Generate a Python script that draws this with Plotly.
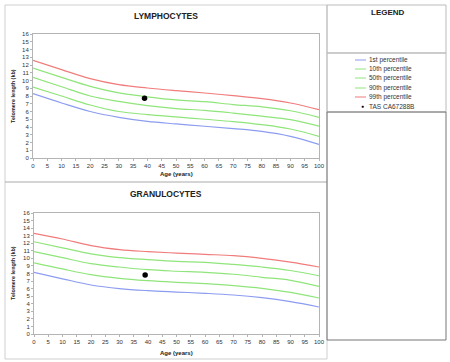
import plotly.graph_objects as go

W, H = 450, 362

ages = [0, 10, 20, 30, 40, 50, 60, 70, 80, 90, 100]

# Lymphocytes percentiles (kb)
lym_p1 = [8.3, 7.1, 6.0, 5.25, 4.73, 4.4, 4.1, 3.8, 3.44, 2.8, 1.76]
lym_p10 = [9.16, 8.0, 6.84, 6.0, 5.6, 5.3, 5.0, 4.7, 4.3, 3.74, 2.8]
lym_p50 = [10.4, 9.2, 8.0, 7.3, 6.75, 6.37, 6.15, 5.8, 5.4, 4.95, 4.1]
lym_p90 = [11.6, 10.4, 9.25, 8.4, 7.9, 7.5, 7.27, 6.9, 6.6, 6.1, 5.25]
lym_p99 = [12.6, 11.4, 10.24, 9.46, 9.03, 8.69, 8.39, 8.04, 7.66, 7.1, 6.24]

# Granulocytes percentiles (kb)
gra_p1 = [8.15, 7.3, 6.48, 6.0, 5.73, 5.55, 5.38, 5.16, 4.8, 4.27, 3.57]
gra_p10 = [9.4, 8.6, 7.85, 7.36, 7.05, 6.83, 6.65, 6.4, 6.04, 5.5, 4.76]
gra_p50 = [10.9, 10.1, 9.3, 8.86, 8.5, 8.3, 8.15, 7.9, 7.5, 7.1, 6.3]
gra_p90 = [12.2, 11.4, 10.6, 10.1, 9.83, 9.6, 9.48, 9.2, 8.86, 8.4, 7.7]
gra_p99 = [13.3, 12.56, 11.68, 11.15, 10.89, 10.7, 10.53, 10.36, 10.0, 9.5, 8.86]

# Subject (TAS CA67288B)
subject_age = [39]
subject_lym = [7.7]
subject_gra = [7.8]

series_names = ["1st percentile", "10th percentile", "50th percentile",
                "90th percentile", "99th percentile"]
subject_name = "TAS CA67288B"
panel_titles = ["LYMPHOCYTES", "GRANULOCYTES"]
y_ticks = list(range(0, 17))
x_ticks = list(range(0, 101, 5))

colors = ["#8c9cf0", "#8fe57a", "#8fe57a", "#8fe57a", "#f07c7c"]
FONT = "Liberation Sans, Arial, sans-serif"


def px(x):
    return x / W


def py(y):
    return 1 - y / H


fig = go.Figure()

lym = [lym_p1, lym_p10, lym_p50, lym_p90, lym_p99]
gra = [gra_p1, gra_p10, gra_p50, gra_p90, gra_p99]

for vals, name, c in zip(lym, series_names, colors):
    fig.add_trace(go.Scatter(x=ages, y=vals, mode="lines", name=name,
                             line=dict(color=c, width=1.2, shape="spline", smoothing=1.0),
                             xaxis="x", yaxis="y", showlegend=False))
fig.add_trace(go.Scatter(x=subject_age, y=subject_lym, mode="markers", name=subject_name,
                         marker=dict(color="black", size=5.5), xaxis="x", yaxis="y",
                         showlegend=False))
for vals, name, c in zip(gra, series_names, colors):
    fig.add_trace(go.Scatter(x=ages, y=vals, mode="lines", name=name,
                             line=dict(color=c, width=1.2, shape="spline", smoothing=1.0),
                             xaxis="x2", yaxis="y2", showlegend=False))
fig.add_trace(go.Scatter(x=subject_age, y=subject_gra, mode="markers", name=subject_name,
                         marker=dict(color="black", size=5.5), xaxis="x2", yaxis="y2",
                         showlegend=False))

axis_common = dict(showgrid=False, zeroline=False, showline=True, mirror=True,
                   linecolor="#b4b4b4", linewidth=1, ticks="outside", ticklen=2,
                   tickcolor="#b4b4b4", tickfont=dict(family=FONT, size=6, color="#333"),
                   fixedrange=True, automargin=False)

fig.update_layout(
    width=W, height=H,
    margin=dict(l=0, r=0, t=0, b=0, autoexpand=False),
    paper_bgcolor="white", plot_bgcolor="white",
    showlegend=False,
    xaxis=dict(domain=[px(33), px(319)], range=[0, 100], tickvals=x_ticks,
               anchor="y", **axis_common),
    yaxis=dict(domain=[py(158), py(34)], range=[0, 16], tickvals=y_ticks,
               anchor="x", **axis_common),
    xaxis2=dict(domain=[px(34), px(319)], range=[0, 100], tickvals=x_ticks,
                anchor="y2", **axis_common),
    yaxis2=dict(domain=[py(334), py(213)], range=[0, 16], tickvals=y_ticks,
                anchor="x2", **axis_common),
)

shapes = []
light = "#cfcfcf"
# left panel frames
shapes.append(dict(type="rect", xref="paper", yref="paper", x0=px(5), x1=px(327),
                   y0=py(359), y1=py(5), line=dict(color=light, width=1)))
shapes.append(dict(type="line", xref="paper", yref="paper", x0=px(5), x1=px(327),
                   y0=py(182), y1=py(182), line=dict(color="#aaaaaa", width=1)))
# legend boxes
shapes.append(dict(type="rect", xref="paper", yref="paper", x0=px(327), x1=px(446),
                   y0=py(53), y1=py(5), line=dict(color="#bbbbbb", width=1)))
shapes.append(dict(type="rect", xref="paper", yref="paper", x0=px(327), x1=px(446),
                   y0=py(112), y1=py(53), line=dict(color="#bbbbbb", width=1)))
shapes.append(dict(type="rect", xref="paper", yref="paper", x0=px(327), x1=px(446),
                   y0=py(340), y1=py(112), line=dict(color="#777777", width=1)))

annotations = []
# panel titles
for t, yy in zip(panel_titles, [16, 194]):
    annotations.append(dict(text="<b>%s</b>" % t, x=px(166), y=py(yy), xref="paper",
                            yref="paper", showarrow=False, xanchor="center",
                            yanchor="middle", font=dict(family=FONT, size=8.5, color="#222")))
# axis titles
for ym, yt in [(96, 174), (273, 353)]:
    annotations.append(dict(text="<b>Telomere length (kb)</b>", x=px(13), y=py(ym),
                            xref="paper", yref="paper", showarrow=False, textangle=-90,
                            xanchor="center", yanchor="middle",
                            font=dict(family=FONT, size=5.5, color="#222")))
    annotations.append(dict(text="<b>Age (years)</b>", x=px(176), y=py(yt),
                            xref="paper", yref="paper", showarrow=False,
                            xanchor="center", yanchor="middle",
                            font=dict(family=FONT, size=6, color="#222")))
# legend
annotations.append(dict(text="<b>LEGEND</b>", x=px(388), y=py(12), xref="paper",
                        yref="paper", showarrow=False, xanchor="center", yanchor="middle",
                        font=dict(family=FONT, size=8, color="#222")))
leg_y = [60, 69, 78, 88, 97]
for name, c, yy in zip(series_names, colors, leg_y):
    shapes.append(dict(type="line", xref="paper", yref="paper", x0=px(355), x1=px(366),
                       y0=py(yy), y1=py(yy), line=dict(color=c, width=1)))
    annotations.append(dict(text=name, x=px(367), y=py(yy), xref="paper", yref="paper",
                            showarrow=False, xanchor="left", yanchor="middle",
                            font=dict(family=FONT, size=6.5, color="#333")))
annotations.append(dict(text="\u25CF", x=px(362), y=py(106), xref="paper", yref="paper",
                        showarrow=False, xanchor="center", yanchor="middle",
                        font=dict(family=FONT, size=5, color="black")))
annotations.append(dict(text=subject_name, x=px(367), y=py(106), xref="paper",
                        yref="paper", showarrow=False, xanchor="left", yanchor="middle",
                        font=dict(family=FONT, size=6.5, color="#333")))

fig.update_layout(shapes=shapes, annotations=annotations)
fig.write_html("out.html", config={"displayModeBar": False},
               post_script="document.body.style.margin='0';document.body.style.padding='0';")
